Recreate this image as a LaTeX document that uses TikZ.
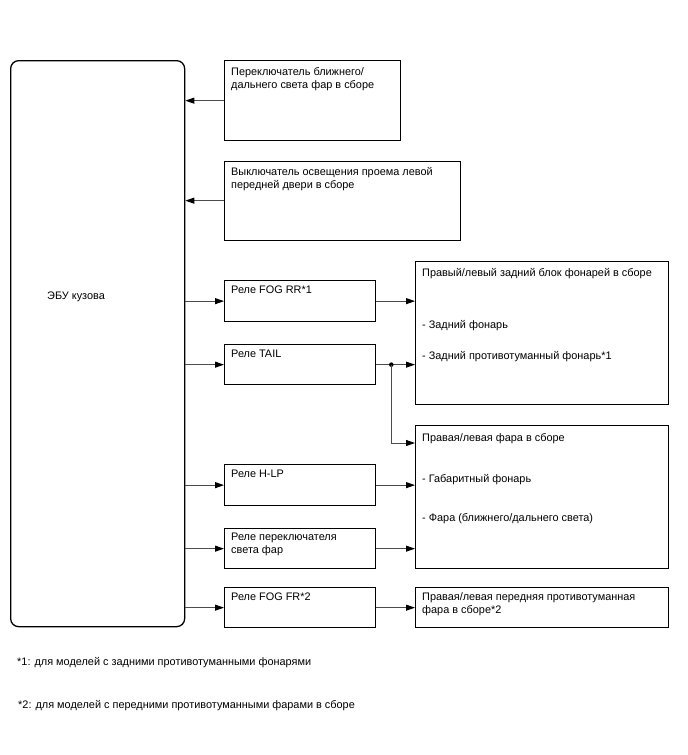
\documentclass[tikz,border=0pt]{standalone}
\usepackage{fontspec}
\setmainfont{Liberation Sans}
\usetikzlibrary{arrows.meta}
\begin{document}
\begin{tikzpicture}[x=1pt,y=-1pt,
  box/.style={draw=black, line width=1.3pt, anchor=north west, inner sep=0pt, fill=none},
  lbl/.style={anchor=north west, inner sep=0pt, font=\fontsize{10.9}{13}\selectfont, align=left},
  conn/.style={draw=black!70, line width=0.9pt, -{Triangle[length=9pt,width=6pt,color=black]}}]
\useasboundingbox[fill=white] (0,0) rectangle (688,755);
% ECU
\node[box, rounded corners=8pt, minimum width=174pt, minimum height=566pt] (ecu) at (10,60) {};
\node[lbl] (ecut) at (47,291.5) {ЭБУ кузова};
% inputs
\node[box, minimum width=176pt, minimum height=80pt] (sw1) at (224,60) {};
\node[lbl] (sw1t) at ([shift={(7,7)}]sw1.north west) {Переключатель ближнего/\\дальнего света фар в сборе};
\node[box, minimum width=236pt, minimum height=79pt] (sw2) at (224,160.5) {};
\node[lbl] (sw2t) at ([shift={(7,7)}]sw2.north west) {Выключатель освещения проема левой\\передней двери в сборе};
% relays
\node[box, minimum width=151pt, minimum height=41pt] (fogrr) at (224,280) {};
\node[lbl] (fogrrt) at ([shift={(7,6)}]fogrr.north west) {Реле FOG RR*1};
\node[box, minimum width=151pt, minimum height=40pt] (tail) at (224,344) {};
\node[lbl] (tailt) at ([shift={(7,6)}]tail.north west) {Реле TAIL};
\node[box, minimum width=151pt, minimum height=41pt] (hlp) at (224,464) {};
\node[lbl] (hlpt) at ([shift={(7,6)}]hlp.north west) {Реле H-LP};
\node[box, minimum width=151pt, minimum height=40pt] (dim) at (224,528) {};
\node[lbl] (dimt) at ([shift={(7,5)}]dim.north west) {Реле переключателя\\света фар};
\node[box, minimum width=151pt, minimum height=40pt] (fogfr) at (224,587) {};
\node[lbl] (fogfrt) at ([shift={(7,5.5)}]fogfr.north west) {Реле FOG FR*2};
% outputs
\node[box, minimum width=253pt, minimum height=143pt] (rear) at (415,261) {};
\node[lbl] (reart) at ([shift={(7,7)}]rear.north west) {Правый/левый задний блок фонарей в сборе};
\node[lbl] (rear1) at (422,320) {- Задний фонарь};
\node[lbl] (rear2) at (422,351) {- Задний противотуманный фонарь*1};
\node[box, minimum width=253pt, minimum height=143pt] (head) at (415,425) {};
\node[lbl] (headt) at ([shift={(7,8)}]head.north west) {Правая/левая фара в сборе};
\node[lbl] (head1) at (422,474) {- Габаритный фонарь};
\node[lbl] (head2) at (422,513) {- Фара (ближнего/дальнего света)};
\node[box, minimum width=253pt, minimum height=40pt] (fogl) at (415,587) {};
\node[lbl] (foglt) at ([shift={(7,5)}]fogl.north west) {Правая/левая передняя противотуманная\\фара в сборе*2};
% footnotes
\node[lbl] (n1) at (17,657) {*1: для моделей с задними противотуманными фонарями};
\node[lbl] (n2) at (18,700) {*2: для моделей с передними противотуманными фарами в сборе};
% connectors
\draw[conn] (sw1.west) -- (ecu.east |- sw1.west);
\draw[conn] (sw2.west) -- (ecu.east |- sw2.west);
\draw[conn] (ecu.east |- fogrr.west) -- (fogrr.west);
\draw[conn] (ecu.east |- tail.west) -- (tail.west);
\draw[conn] (ecu.east |- hlp.west) -- (hlp.west);
\draw[conn] (ecu.east |- dim.west) -- (dim.west);
\draw[conn] (ecu.east |- fogfr.west) -- (fogfr.west);
\draw[conn] (fogrr.east) -- (rear.west |- fogrr.east);
\draw[conn] (tail.east) -- (rear.west |- tail.east);
\coordinate (j) at ([xshift=15pt]tail.east);
\coordinate (hin) at ([yshift=-18pt]head.north west);
\fill[black] (j) circle (2.3pt);
\draw[conn] (j) |- (hin);
\draw[conn] (hlp.east) -- (head.west |- hlp.east);
\draw[conn] (dim.east) -- (head.west |- dim.east);
\draw[conn] (fogfr.east) -- (fogl.west |- fogfr.east);
\end{tikzpicture}
\end{document}
